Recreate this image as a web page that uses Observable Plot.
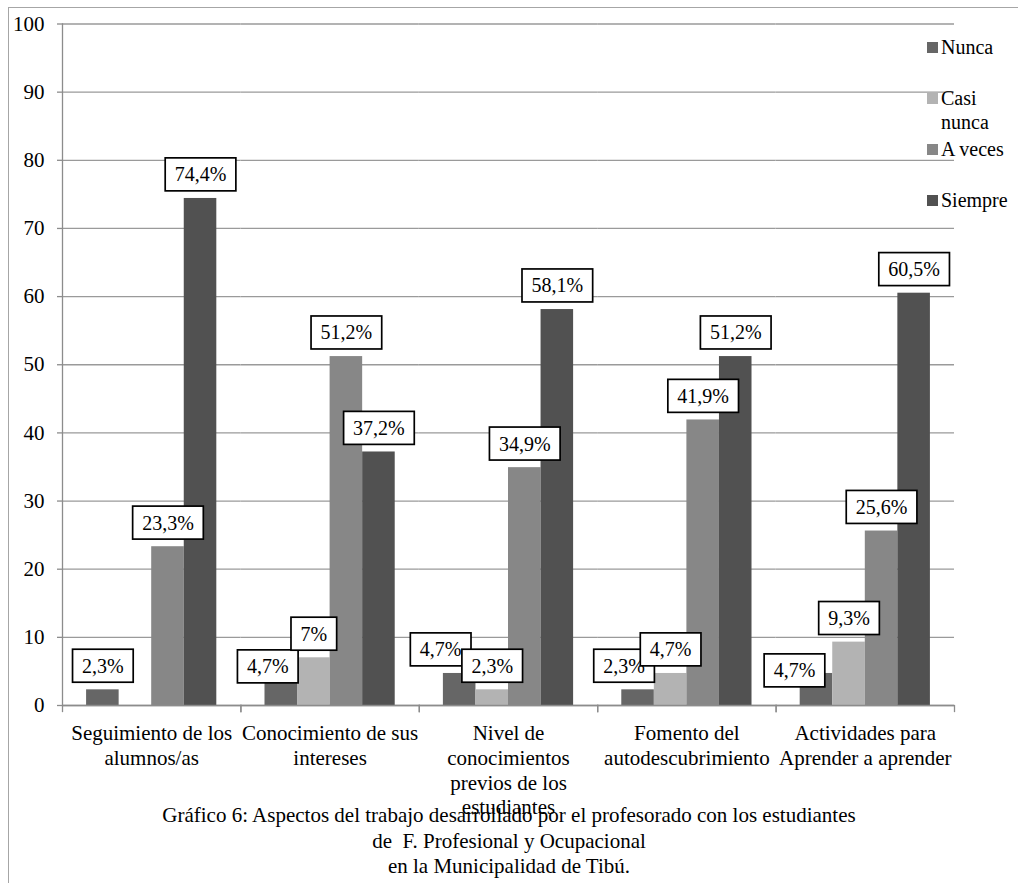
<!DOCTYPE html>
<html><head><meta charset="utf-8">
<script src="https://cdn.jsdelivr.net/npm/d3@7"></script>
<script src="https://cdn.jsdelivr.net/npm/@observablehq/plot@0.6"></script>
<style>
body{margin:0;background:#fff;font-family:"Liberation Serif","Times New Roman",serif;color:#000;}
#wrap{position:relative;width:1018px;height:883px;overflow:hidden;}
#border{position:absolute;left:8px;top:6.5px;right:-4px;bottom:-4px;border-left:1.5px solid #a6a6a6;border-top:1.5px solid #a6a6a6;}
#chart{position:absolute;left:0;top:0;}
#chart svg, #chart svg text{font-family:"Liberation Serif","Times New Roman",serif;}
#legend{position:absolute;left:927px;top:35px;width:91px;font-family:"Liberation Serif","Times New Roman",serif;}
.item{display:flex;align-items:flex-start;height:51px;font-size:20px;line-height:24px;}
.sw{width:11px;height:11px;margin-top:7px;margin-right:3px;flex:none;}
.lt{width:77px;}
#caption{position:absolute;left:0;width:1018px;top:803px;text-align:center;font-size:21px;line-height:25.5px;font-family:"Liberation Serif","Times New Roman",serif;}
</style></head>
<body>
<div id="wrap">
  <div id="border"></div>
  <div id="chart"></div>
  <div id="legend"></div>
  <div id="caption"></div>
</div>
<script>
const categories = [
  "Seguimiento de los alumnos/as",
  "Conocimiento de sus intereses",
  "Nivel de conocimientos previos de los estudiantes",
  "Fomento del autodescubrimiento",
  "Actividades para Aprender a aprender"
];
const categoryLines = [
  ["Seguimiento de los", "alumnos/as"],
  ["Conocimiento de sus", "intereses"],
  ["Nivel de", "conocimientos", "previos de los", "estudiantes"],
  ["Fomento del", "autodescubrimiento"],
  ["Actividades para", "Aprender a aprender"]
];
const series = ["Nunca", "Casi nunca", "A veces", "Siempre"];
const nunca     = [2.3, 4.7, 4.7, 2.3, 4.7];
const casiNunca = [0, 7, 2.3, 4.7, 9.3];
const aVeces    = [23.3, 51.2, 34.9, 41.9, 25.6];
const siempre   = [74.4, 37.2, 58.1, 51.2, 60.5];
const yTicks = [0, 10, 20, 30, 40, 50, 60, 70, 80, 90, 100];
const captionLines = [
  "Gráfico 6: Aspectos del trabajo desarrollado por el profesorado con los estudiantes",
  "de\u00a0 F. Profesional y Ocupacional",
  "en la Municipalidad de Tibú."
];

// styling (not data)
const colors = ["#666666", "#b3b3b3", "#878787", "#515151"];
// manual nudges of some data labels (pixels), as placed in the original
const labelNudges = [
  {cat: 1, ser: "Nunca", dx: -13.5, dy: 17},
  {cat: 2, ser: "Nunca", dx: -19, dy: 0},
  {cat: 3, ser: "Nunca", dx: -14, dy: 0},
  {cat: 4, ser: "Nunca", dx: -22, dy: 21}
];

const valuesBySeries = [nunca, casiNunca, aVeces, siempre];
const rows = [];
series.forEach((s, si) => categories.forEach((c, ci) => {
  rows.push({category: c, series: s, value: valuesBySeries[si][ci], ci});
}));
const fmt = v => (Number.isInteger(v) ? String(v) : v.toFixed(1).replace(".", ",")) + "%";

const W = 1018, H = 883, mT = 23.5, mB = 178, mL = 62, mR = 64;
const innerH = H - mT - mB;
const axisGray = "#8c8c8c";
const serif = "'Liberation Serif', 'Times New Roman', serif";

const labelMarks = rows.filter(r => r.value > 0).map(r => {
  const n = labelNudges.find(k => k.cat === r.ci && k.ser === r.series) || {dx: 0, dy: 0};
  return Plot.text([r], {
    fx: "category", x: "series", y: "value", text: d => fmt(d.value),
    dx: n.dx, dy: -23.5 + n.dy, lineAnchor: "middle", fontSize: 20, fontFamily: serif, fill: "black",
    ariaDescription: "datalabel"
  });
});

const plot = Plot.plot({
  width: W, height: H,
  marginTop: mT, marginBottom: mB, marginLeft: mL, marginRight: mR,
  style: `font-family: ${serif}; font-size: 21px; background: transparent; overflow: visible;`,
  fx: {domain: categories, padding: 0, round: false, axis: null, label: null},
  x: {domain: series, paddingInner: 0, paddingOuter: 0.74, round: false, axis: null, label: null},
  y: {domain: [0, 100], axis: null, label: null},
  color: {domain: series, range: colors},
  marks: [
    Plot.gridY(yTicks, {stroke: "#9a9a9a", strokeOpacity: 1, strokeWidth: 1.3}),
    Plot.barY(rows, {fx: "category", x: "series", y: "value", fill: "series"}),
    Plot.ruleY([0], {stroke: axisGray, strokeWidth: 1.3}),
    Plot.frame({anchor: "left", stroke: axisGray, strokeWidth: 1.3, insetTop: innerH, insetBottom: -6}),
    Plot.frame({anchor: "right", stroke: axisGray, strokeWidth: 1.3, insetTop: innerH, insetBottom: -6}),
    Plot.frame({anchor: "left", stroke: axisGray, strokeWidth: 1.3, facetAnchor: "left"}),
    Plot.axisY(yTicks, {tickSize: 5, tickPadding: 13, fontSize: 21, fontFamily: serif, stroke: axisGray, strokeWidth: 1.3, label: null}),
    Plot.text(categories, {fx: d => d, text: (d, i) => categoryLines[i].join("\n"),
      frameAnchor: "bottom", lineAnchor: "top", dy: 17.5, fontSize: 21, fontFamily: serif, lineHeight: 1.17, fill: "black"}),
    ...labelMarks
  ]
});
document.getElementById("chart").append(plot);

// white boxes with black border behind the data labels
plot.querySelectorAll('g[aria-description="datalabel"] text').forEach(t => {
  const b = t.getBBox();
  const padX = 9.5, padY = 5.5;
  const r = document.createElementNS("http://www.w3.org/2000/svg", "rect");
  r.setAttribute("x", b.x - padX);
  r.setAttribute("y", b.y - padY);
  r.setAttribute("width", b.width + 2 * padX);
  r.setAttribute("height", b.height + 2 * padY);
  r.setAttribute("fill", "white");
  r.setAttribute("stroke", "black");
  r.setAttribute("stroke-width", 1.7);
  if (t.getAttribute("transform")) r.setAttribute("transform", t.getAttribute("transform"));
  t.parentNode.insertBefore(r, t);
});

// legend
const legend = document.getElementById("legend");
series.forEach((s, i) => {
  const it = document.createElement("div");
  it.className = "item";
  it.innerHTML = `<div class="sw" style="background:${colors[i]}"></div><div class="lt">${s}</div>`;
  legend.append(it);
});
// caption
document.getElementById("caption").innerHTML = captionLines.map(l => `<div>${l}</div>`).join("");
</script>
</body></html>
